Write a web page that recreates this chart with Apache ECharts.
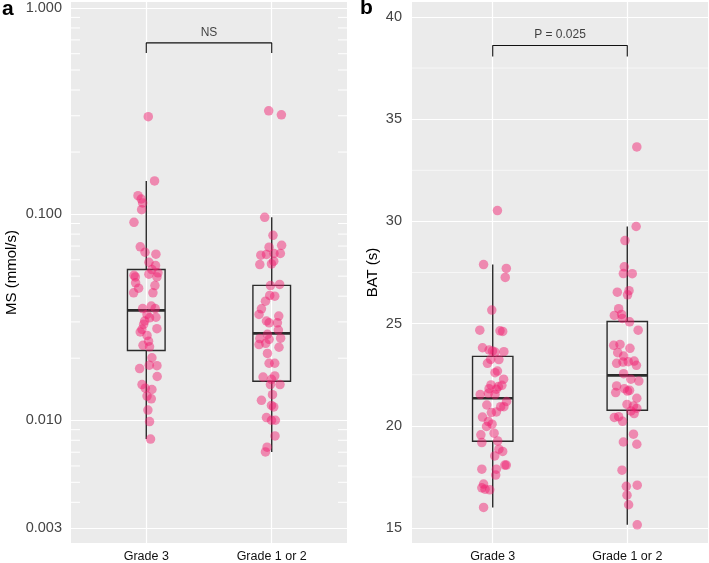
<!DOCTYPE html>
<html>
<head>
<meta charset="utf-8">
<script src="https://cdn.jsdelivr.net/npm/echarts@6/dist/echarts.min.js"></script>
<style>html,body{margin:0;padding:0;background:#fff}#chart{width:709px;height:563px}</style>
</head>
<body>
<div id="chart"></div>
<script>
'use strict';

// ---- data ----
const groups = ['Grade 3', 'Grade 1 or 2'];

// panel a: MS (mmol/s), log scale
const msTicks = [0.003, 0.01, 0.1, 1];
const msLogTicks = [0.004, 0.005, 0.006, 0.007, 0.008, 0.009, 0.02, 0.03, 0.04, 0.05, 0.06, 0.07, 0.08, 0.09,
  0.2, 0.3, 0.4, 0.5, 0.6, 0.7, 0.8, 0.9];
// box: [lower whisker, q1, median, q3, upper whisker]
const msBoxG3 = [0.0081, 0.0218, 0.0341, 0.0539, 0.1448];
const msBoxG12 = [0.00702, 0.01545, 0.0264, 0.0451, 0.0965];
const msG3 = [0.297, 0.1448, 0.1229, 0.1184, 0.1133, 0.1051, 0.0912, 0.0694, 0.0653, 0.0639, 0.0584, 0.0563, 0.0538,
  0.0519, 0.0496, 0.0511, 0.0505, 0.0496, 0.0464, 0.0450, 0.0437, 0.0415, 0.0415, 0.0348, 0.0358, 0.0348, 0.0326,
  0.0314, 0.0316, 0.0303, 0.0292, 0.0268, 0.0276, 0.0278, 0.0258, 0.0242, 0.0231, 0.0227, 0.0201, 0.0185, 0.0184,
  0.0178, 0.0163, 0.0149, 0.0143, 0.0141, 0.0131, 0.0127, 0.0112, 0.00985, 0.0081];
const msG3Jit = [0.016, 0.066, -0.066, -0.040, -0.029, -0.037, -0.098, -0.048, -0.010, 0.077, 0.021, 0.074, 0.045,
  0.093, 0.085, 0.021, -0.098, -0.087, -0.085, 0.069, -0.061, -0.101, 0.053, -0.029, 0.040, 0.071, 0.006,
  0.026, 0.077, -0.013, -0.021, -0.048, -0.034, 0.085, 0.006, 0.018, -0.026, 0.026, 0.045, 0.024, 0.085,
  -0.053, 0.087, -0.034, -0.008, 0.045, 0.006, 0.040, 0.013, 0.026, 0.034];
const msG12 = [0.317, 0.303, 0.0965, 0.0789, 0.0706, 0.0691, 0.0632, 0.0637, 0.0644, 0.0644, 0.0569, 0.0573, 0.0591,
  0.0450, 0.0456, 0.0403, 0.0400, 0.0378, 0.0347, 0.0326, 0.0320, 0.0303, 0.0297, 0.0297, 0.0274, 0.0261, 0.0249,
  0.0247, 0.0250, 0.0233, 0.0236, 0.0226, 0.0211, 0.0189, 0.0189, 0.0162, 0.0164, 0.0158, 0.0149, 0.0149, 0.0133,
  0.0125, 0.0118, 0.0116, 0.0103, 0.0100, 0.0100, 0.00839, 0.00740, 0.00702];
const msG12Jit = [-0.024, 0.077, -0.056, 0.010, 0.079, -0.021, -0.087, -0.042, 0.018, 0.069, -0.095, -0.002, 0.016,
  -0.010, 0.063, -0.016, 0.024, -0.050, -0.082, -0.101, 0.056, -0.042, -0.021, 0.045, 0.053, -0.034, -0.095,
  -0.021, 0.071, -0.101, -0.048, 0.058, -0.034, -0.021, 0.024, -0.069, 0.024, -0.002, 0.066, -0.010, 0.006,
  -0.082, -0.002, 0.016, -0.042, -0.002, 0.029, 0.026, -0.037, -0.050];

// panel b: BAT (s), linear scale
const batTicks = [15, 20, 25, 30, 35, 40];
const batMinor = [17.5, 22.5, 27.5, 32.5, 37.5];
const batBoxG3 = [16.01, 19.25, 21.35, 23.4, 27.89];
const batBoxG12 = [15.16, 20.76, 22.47, 25.1, 29.75];
const batG3 = [30.53, 27.89, 27.70, 27.26, 25.66, 24.68, 24.65, 24.62, 23.82, 23.71, 23.66, 23.61, 23.63, 23.25, 23.24,
  23.06, 22.68, 22.60, 22.28, 22.00, 21.92, 21.98, 21.82, 21.79, 21.53, 21.59, 21.53, 21.19, 21.02, 20.94, 20.94,
  20.65, 20.68, 20.43, 20.21, 20.08, 19.97, 19.64, 19.56, 19.18, 19.26, 18.86, 18.75, 18.53, 18.08, 18.08, 17.88,
  17.88, 17.59, 17.15, 16.97, 16.90, 16.87, 16.01];
const batG3Jit = [0.035, -0.068, 0.101, 0.093, -0.007, -0.096, 0.054, 0.074, -0.076, -0.027, -0.002, 0.017, 0.083,
  -0.015, 0.046, -0.039, 0.035, 0.017, 0.081, -0.013, 0.042, 0.068, -0.027, 0.027, -0.093, -0.032, 0.017, 0.103,
  -0.044, 0.059, 0.083, -0.010, 0.027, -0.076, -0.032, -0.005, -0.046, 0.010, -0.088, -0.081, 0.037, 0.046, 0.074,
  0.015, 0.090, 0.101, -0.081, 0.027, 0.022, -0.068, -0.081, -0.057, -0.022, -0.068];
const batG12 = [33.64, 29.75, 29.06, 27.78, 27.45, 27.44, 26.54, 26.61, 26.41, 25.73, 25.40, 25.45, 25.25, 25.09, 24.68,
  23.94, 23.98, 23.79, 23.58, 23.41, 23.06, 23.12, 23.14, 23.17, 22.96, 22.55, 22.28, 22.19, 21.95, 21.82, 21.74,
  21.63, 21.70, 21.35, 21.05, 20.97, 20.86, 20.60, 20.73, 20.41, 20.45, 20.22, 19.59, 19.21, 19.10, 17.83, 17.04,
  17.10, 16.61, 16.14, 15.16];
const batG12Jit = [0.071, 0.066, -0.017, -0.022, -0.029, 0.037, -0.074, 0.013, 0.002, -0.064, -0.096, -0.042, -0.037,
  0.017, 0.081, -0.101, -0.054, 0.020, -0.071, -0.027, -0.079, -0.032, 0.007, 0.051, 0.068, -0.027, 0.027, 0.086,
  -0.079, -0.022, 0.017, -0.086, 0.002, 0.071, -0.002, 0.046, 0.071, 0.051, 0.027, -0.096, -0.064, -0.035, 0.046,
  -0.029, 0.071, -0.039, -0.007, 0.074, -0.002, 0.010, 0.074];

// significance brackets: [foot, top]
const msBracket = [0.605, 0.677];
const batBracket = [38.06, 38.60];

// ---- style ----
const FONT = '"Liberation Sans", Arial, Helvetica, sans-serif';
const PT = 'rgba(240,30,110,0.6)';
const INK = '#2b2b2b';

const jitter = (vals, jit, pos) => vals.map((v, i) => [pos + jit[i], v]);

function renderBox(params, api) {
  const x = api.value(0);
  const lo = api.coord([x, api.value(1)]);
  const q1 = api.coord([x, api.value(2)]);
  const md = api.coord([x, api.value(3)]);
  const q3 = api.coord([x, api.value(4)]);
  const hi = api.coord([x, api.value(5)]);
  const l = api.coord([x - 0.15, api.value(3)])[0];
  const r = api.coord([x + 0.15, api.value(3)])[0];
  const st = { stroke: INK, lineWidth: 1.4, fill: 'none' };
  return { type: 'group', children: [
    { type: 'line', shape: { x1: hi[0], y1: hi[1], x2: q3[0], y2: q3[1] }, style: st },
    { type: 'line', shape: { x1: q1[0], y1: q1[1], x2: lo[0], y2: lo[1] }, style: st },
    { type: 'rect', shape: { x: l, y: q3[1], width: r - l, height: q1[1] - q3[1] }, style: st },
    { type: 'line', shape: { x1: l, y1: md[1], x2: r, y2: md[1] }, style: { stroke: INK, lineWidth: 2.6 } },
  ] };
}

// short log ticks on both panel edges
function renderLogTick(params, api) {
  const cs = params.coordSys;
  const y = api.coord([1, api.value(1)])[1];
  const st = { stroke: '#ffffff', lineWidth: 1 };
  return { type: 'group', children: [
    { type: 'line', shape: { x1: cs.x, y1: y, x2: cs.x + 9, y2: y }, style: st },
    { type: 'line', shape: { x1: cs.x + cs.width - 9, y1: y, x2: cs.x + cs.width, y2: y }, style: st },
  ] };
}

// minor horizontal grid lines
function renderMinor(params, api) {
  const cs = params.coordSys;
  const y = api.coord([1, api.value(1)])[1];
  return { type: 'line', shape: { x1: cs.x, y1: y, x2: cs.x + cs.width, y2: y }, style: { stroke: '#ffffff', lineWidth: 0.6 } };
}

const xAxisFor = gi => ({
  type: 'value', gridIndex: gi, min: 0.4, max: 2.6,
  axisLine: { show: false },
  axisTick: { show: false, customValues: [1, 2] },
  axisLabel: { customValues: [1, 2], formatter: v => groups[Math.round(v) - 1], color: '#111', fontSize: 12.5, margin: 7, fontFamily: FONT },
  splitLine: { show: true, lineStyle: { color: '#ffffff', width: 1.2 } },
});

const bracketLine = (xi, yi, b) => ({
  type: 'line', xAxisIndex: xi, yAxisIndex: yi, silent: true, showSymbol: false, z: 4,
  data: [[1, b[0]], [1, b[1]], [2, b[1]], [2, b[0]]],
  lineStyle: { color: '#111', width: 1.1 },
});
const bracketText = (xi, yi, b, txt) => ({
  type: 'scatter', xAxisIndex: xi, yAxisIndex: yi, silent: true, symbolSize: 1, z: 4,
  itemStyle: { color: 'rgba(0,0,0,0)' },
  data: [[1.5, b[1]]],
  label: { show: true, position: 'top', distance: 4, formatter: txt, color: '#111', fontSize: 12, fontFamily: FONT },
});

const chart = echarts.init(document.getElementById('chart'));
chart.setOption({
  animation: false,
  textStyle: { fontFamily: FONT },
  title: [
    { text: 'a', left: 2, top: -1, padding: 0, textStyle: { fontSize: 21, fontWeight: 'bold', color: '#000', fontFamily: FONT } },
    { text: 'b', left: 360, top: -2, padding: 0, textStyle: { fontSize: 21, fontWeight: 'bold', color: '#000', fontFamily: FONT } },
  ],
  grid: [
    { left: 71, top: 2, width: 276, height: 542, show: true, backgroundColor: '#EBEBEB', borderWidth: 0 },
    { left: 412, top: 2, width: 296, height: 542, show: true, backgroundColor: '#EBEBEB', borderWidth: 0 },
  ],
  xAxis: [xAxisFor(0), xAxisFor(1)],
  yAxis: [
    {
      type: 'log', logBase: 10, gridIndex: 0, min: 0.002538, max: 1.069,
      name: 'MS (mmol/s)', nameLocation: 'middle', nameGap: 52,
      nameTextStyle: { fontSize: 15, color: '#000', fontFamily: FONT },
      axisLine: { show: false },
      axisTick: { show: false, customValues: msTicks },
      axisLabel: { customValues: msTicks, formatter: v => v.toFixed(3), fontSize: 14.5, color: '#444', margin: 9, fontFamily: FONT },
      splitLine: { show: true, lineStyle: { color: '#ffffff', width: 1.2 } },
    },
    {
      type: 'value', gridIndex: 1, min: 14.27, max: 40.73,
      name: 'BAT (s)', nameLocation: 'middle', nameGap: 32,
      nameTextStyle: { fontSize: 15, color: '#000', fontFamily: FONT },
      axisLine: { show: false },
      axisTick: { show: false, customValues: batTicks },
      axisLabel: { customValues: batTicks, fontSize: 14.5, color: '#444', margin: 10, fontFamily: FONT },
      splitLine: { show: true, lineStyle: { color: '#ffffff', width: 1.2 } },
    },
  ],
  series: [
    { type: 'custom', xAxisIndex: 0, yAxisIndex: 0, silent: true, z: 1, renderItem: renderLogTick, data: msLogTicks.map(v => [1, v]) },
    { type: 'custom', xAxisIndex: 1, yAxisIndex: 1, silent: true, z: 1, renderItem: renderMinor, data: batMinor.map(v => [1, v]) },
    { type: 'custom', xAxisIndex: 0, yAxisIndex: 0, silent: true, z: 2, renderItem: renderBox, data: [[1, ...msBoxG3], [2, ...msBoxG12]] },
    { type: 'custom', xAxisIndex: 1, yAxisIndex: 1, silent: true, z: 2, renderItem: renderBox, data: [[1, ...batBoxG3], [2, ...batBoxG12]] },
    { type: 'scatter', xAxisIndex: 0, yAxisIndex: 0, z: 3, symbolSize: 9.5, itemStyle: { color: PT }, data: jitter(msG3, msG3Jit, 1) },
    { type: 'scatter', xAxisIndex: 0, yAxisIndex: 0, z: 3, symbolSize: 9.5, itemStyle: { color: PT }, data: jitter(msG12, msG12Jit, 2) },
    { type: 'scatter', xAxisIndex: 1, yAxisIndex: 1, z: 3, symbolSize: 9.5, itemStyle: { color: PT }, data: jitter(batG3, batG3Jit, 1) },
    { type: 'scatter', xAxisIndex: 1, yAxisIndex: 1, z: 3, symbolSize: 9.5, itemStyle: { color: PT }, data: jitter(batG12, batG12Jit, 2) },
    bracketLine(0, 0, msBracket),
    bracketLine(1, 1, batBracket),
    bracketText(0, 0, msBracket, 'NS'),
    bracketText(1, 1, batBracket, 'P = 0.025'),
  ],
});
</script>
</body>
</html>
